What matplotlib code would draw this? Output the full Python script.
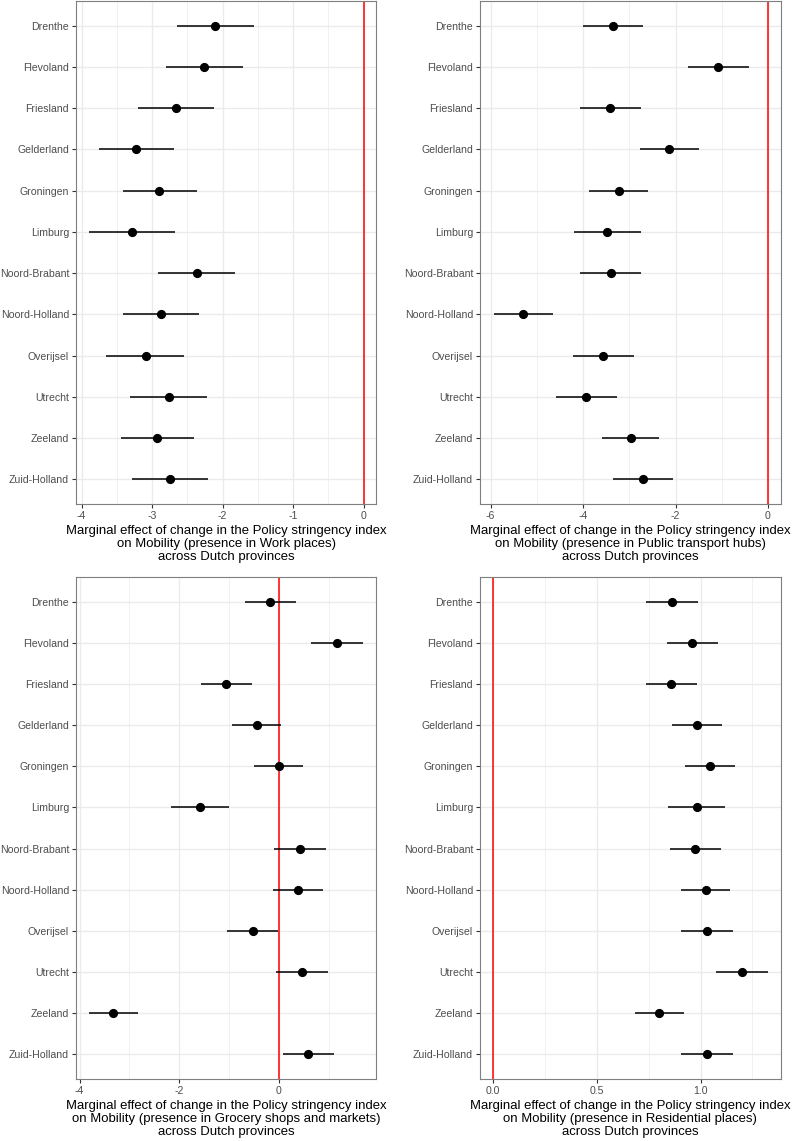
import numpy as np
import matplotlib
matplotlib.use("Agg")
import matplotlib.pyplot as plt
from matplotlib.ticker import MultipleLocator

plt.rcParams['font.family'] = ['Liberation Sans', 'DejaVu Sans']

provinces = ["Drenthe", "Flevoland", "Friesland", "Gelderland", "Groningen", "Limburg",
             "Noord-Brabant", "Noord-Holland", "Overijsel", "Utrecht", "Zeeland", "Zuid-Holland"]

# work places
work_est = [-2.11, -2.26, -2.66, -3.23, -2.90, -3.28, -2.37, -2.87, -3.09, -2.76, -2.93, -2.75]
work_lo = [-2.65, -2.81, -3.20, -3.76, -3.42, -3.89, -2.92, -3.41, -3.65, -3.31, -3.44, -3.29]
work_hi = [-1.56, -1.71, -2.12, -2.69, -2.37, -2.68, -1.82, -2.34, -2.55, -2.22, -2.41, -2.21]

# public transport hubs
transit_est = [-3.35, -1.08, -3.41, -2.14, -3.23, -3.48, -3.40, -5.29, -3.56, -3.93, -2.97, -2.71]
transit_lo = [-4.01, -1.74, -4.07, -2.77, -3.87, -4.20, -4.07, -5.93, -4.22, -4.59, -3.60, -3.36]
transit_hi = [-2.70, -0.42, -2.75, -1.49, -2.59, -2.74, -2.74, -4.65, -2.89, -3.27, -2.35, -2.05]

# grocery shops and markets
grocery_est = [-0.17, 1.16, -1.06, -0.45, 0.00, -1.59, 0.43, 0.39, -0.52, 0.47, -3.32, 0.59]
grocery_lo = [-0.68, 0.64, -1.57, -0.95, -0.50, -2.16, -0.09, -0.11, -1.04, -0.05, -3.81, 0.08]
grocery_hi = [0.34, 1.68, -0.54, 0.05, 0.49, -1.01, 0.95, 0.89, -0.01, 0.99, -2.83, 1.11]

# residential places
resid_est = [0.862, 0.960, 0.859, 0.982, 1.045, 0.982, 0.974, 1.024, 1.029, 1.201, 0.801, 1.029]
resid_lo = [0.738, 0.836, 0.737, 0.862, 0.926, 0.844, 0.851, 0.904, 0.904, 1.074, 0.685, 0.907]
resid_hi = [0.986, 1.085, 0.982, 1.104, 1.167, 1.119, 1.099, 1.144, 1.156, 1.324, 0.918, 1.154]

titles = ["Work places", "Public transport hubs", "Grocery shops and markets", "Residential places"]

panels = [
    (work_est, work_lo, work_hi, (-4.08, 0.18), 1, [0.096, 0.5583, 0.379, 0.4408]),
    (transit_est, transit_lo, transit_hi, (-6.23, 0.28), 2, [0.606, 0.5583, 0.380, 0.4408]),
    (grocery_est, grocery_lo, grocery_hi, (-4.07, 1.95), 2, [0.096, 0.0543, 0.379, 0.4400]),
    (resid_est, resid_lo, resid_hi, (-0.063, 1.387), 0.5, [0.606, 0.0543, 0.380, 0.4400]),
]

fig = plt.figure(figsize=(7.92, 11.41), dpi=100)

for (est, lo, hi, xlim, step, pos), name in zip(panels, titles):
    ax = fig.add_axes(pos)
    y = np.arange(len(provinces))
    ax.hlines(y, lo, hi, color='black', lw=1.1, zorder=3)
    ax.plot(est, y, 'o', color='black', ms=5.6, zorder=4)
    ax.axvline(0, color='red', lw=1.1, zorder=2)
    ax.set_xlim(*xlim)
    ax.set_ylim(len(provinces) - 0.4, -0.6)
    ax.set_yticks(y)
    ax.set_yticklabels(provinces)
    ax.xaxis.set_major_locator(MultipleLocator(step))
    ax.xaxis.set_minor_locator(MultipleLocator(step / 2))
    if step == 0.5:
        ax.xaxis.set_major_formatter(matplotlib.ticker.FormatStrFormatter('%.1f'))
    else:
        ax.xaxis.set_major_formatter(matplotlib.ticker.FormatStrFormatter('%d'))
    ax.grid(which='major', color='#EBEBEB', lw=1.0, zorder=0)
    ax.grid(which='minor', axis='x', color='#EBEBEB', lw=0.5, zorder=0)
    ax.set_axisbelow(True)
    ax.tick_params(which='major', length=3, width=0.8, color='#333333',
                   labelsize=7.6, labelcolor='#4D4D4D', pad=2)
    ax.tick_params(which='minor', length=0)
    for s in ax.spines.values():
        s.set_color('#7F7F7F')
        s.set_linewidth(0.8)
    ax.set_xlabel("Marginal effect of change in the Policy stringency index\n"
                  "on Mobility (presence in " + name + ")\n"
                  "across Dutch provinces", fontsize=9.45, linespacing=1.1, labelpad=3)

fig.savefig("out.png", dpi=100, facecolor='white')
